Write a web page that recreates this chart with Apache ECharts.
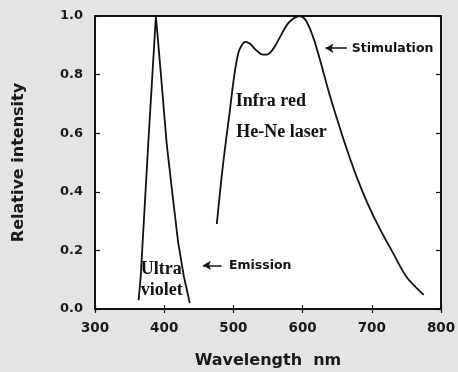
<!DOCTYPE html>
<html lang="en">
<head>
    <meta charset="utf-8">
    <title>Relative intensity vs wavelength</title>
    <style>
        html, body { margin: 0; padding: 0; background: #e4e4e4; }
        #chart { width: 458px; height: 372px; }
    </style>
</head>
<body>
    <div id="chart"></div>
    <script src="https://cdn.jsdelivr.net/npm/echarts@6/dist/echarts.min.js"></script>
    <script type="text/javascript">
        // UV emission band
        var uvWl = [363, 366, 377, 388, 396, 403.5, 412, 420, 428.5, 437];
        var uvVal = [0.03, 0.11, 0.566, 1.0, 0.78, 0.566, 0.39, 0.23, 0.11, 0.02];
        // IR stimulation band
        var stWl = [476, 483, 489, 495, 501, 507, 512, 517, 524, 532, 540, 548, 555, 562, 570, 579, 588, 596, 603, 610, 617, 624, 631, 638, 647, 661, 678, 694, 712, 731, 750, 775];
        var stVal = [0.29, 0.452, 0.57, 0.679, 0.793, 0.873, 0.9, 0.912, 0.905, 0.885, 0.87, 0.868, 0.88, 0.905, 0.94, 0.975, 0.993, 1.0, 0.99, 0.96, 0.915, 0.86, 0.8, 0.74, 0.67, 0.566, 0.452, 0.36, 0.272, 0.19, 0.11, 0.048];
        var yTicks = [0, 0.2, 0.4, 0.6, 0.8, 1.0];
        var xTicks = [300, 400, 500, 600, 700, 800];

        // annotations: [text, wavelength, intensity, kind]
        var notes = [
            ["Stimulation", 671, 0.887, "sans"],
            ["Emission", 493.5, 0.147, "sans"],
            ["Infra red", 503.5, 0.71, "serif"],
            ["He-Ne laser", 504, 0.604, "serif"],
            ["Ultra", 366, 0.137, "serif"],
            ["violet", 366, 0.062, "serif"]
        ];
        // arrows: [from wl, to wl, intensity]
        var arrows = [[664, 633, 0.89], [483, 456, 0.149]];

        function pairs(xs, ys) {
            return xs.map(function (x, i) { return [x, ys[i]]; });
        }

        var sansFont = "DejaVu Sans";
        var serifFont = "Liberation Serif";
        var ink = "#111";

        function xAxisCfg(pos, labels) {
            return {
                type: "value", position: pos, min: xTicks[0], max: xTicks[xTicks.length - 1], interval: 100,
                axisLine: { show: true, lineStyle: { color: ink, width: 2 } },
                axisTick: { show: true, inside: true, length: 4, lineStyle: { color: ink, width: 1.2 } },
                splitLine: { show: false },
                axisLabel: { show: labels, margin: 12, fontFamily: sansFont, fontWeight: "bold", fontSize: 13.5, color: "#1a1a1a" }
            };
        }
        function yAxisCfg(pos, labels) {
            return {
                type: "value", position: pos, min: yTicks[0], max: yTicks[yTicks.length - 1], interval: 0.2,
                axisLine: { show: true, lineStyle: { color: ink, width: 2 } },
                axisTick: { show: true, inside: true, length: 5, lineStyle: { color: ink, width: 1.2 } },
                splitLine: { show: false },
                axisLabel: {
                    show: labels, margin: 12, fontFamily: sansFont, fontWeight: "bold", fontSize: 13, color: "#1a1a1a",
                    formatter: function (v) { return v.toFixed(1); }
                }
            };
        }

        var chart = echarts.init(document.getElementById("chart"));
        var xBottom = xAxisCfg("bottom", true);
        xBottom.name = "Wavelength  nm";
        xBottom.nameLocation = "middle";
        xBottom.nameGap = 44;
        xBottom.nameTextStyle = { fontFamily: sansFont, fontWeight: "bold", fontSize: 16, color: "#1a1a1a" };
        var yLeft = yAxisCfg("left", true);
        yLeft.name = "Relative intensity";
        yLeft.nameLocation = "middle";
        yLeft.nameGap = 68;
        yLeft.nameTextStyle = { fontFamily: sansFont, fontWeight: "bold", fontSize: 16, color: "#1a1a1a" };

        chart.setOption({
            animation: false,
            backgroundColor: "#e4e4e4",
            grid: {
                left: 95, right: 17, top: 16, bottom: 63, show: true, backgroundColor: "#fff",
                borderColor: ink, borderWidth: 2, containLabel: false, outerBoundsMode: "none"
            },
            xAxis: [xBottom, xAxisCfg("top", false)],
            yAxis: [yLeft, yAxisCfg("right", false)],
            series: [
                {
                    type: "line", data: pairs(uvWl, uvVal), showSymbol: false, smooth: false,
                    lineStyle: { color: ink, width: 1.8 }
                },
                {
                    type: "line", data: pairs(stWl, stVal), showSymbol: false, smooth: 0.3,
                    lineStyle: { color: ink, width: 1.8 },
                    markLine: {
                        silent: true, animation: false,
                        lineStyle: { color: ink, width: 1.5, type: "solid" },
                        label: { show: false },
                        symbolSize: [7, 8],
                        data: arrows.map(function (a) {
                            return [{ coord: [a[0], a[2]], symbol: "none" }, { coord: [a[1], a[2]], symbol: "arrow" }];
                        })
                    }
                }
            ]
        });

        // annotation text placed from data coordinates
        chart.setOption({
            graphic: notes.map(function (n) {
                var p = chart.convertToPixel({ xAxisIndex: 0, yAxisIndex: 0 }, [n[1], n[2]]);
                var serif = n[3] === "serif";
                return {
                    type: "text", x: p[0], y: p[1], silent: true,
                    style: {
                        text: n[0], fill: ink,
                        font: serif ? "bold 18px '" + serifFont + "'" : "bold 12.5px '" + sansFont + "'",
                        textAlign: "left", textVerticalAlign: "middle"
                    }
                };
            })
        });
    </script>
</body>
</html>
